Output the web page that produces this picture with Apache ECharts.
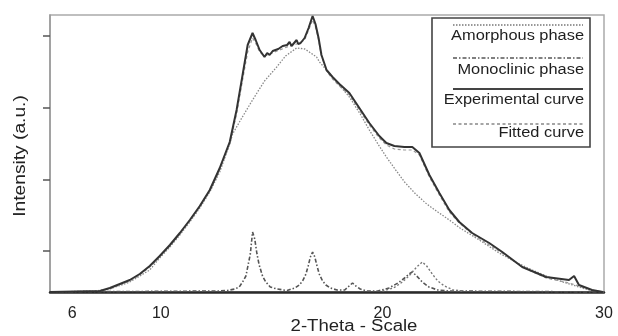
<!DOCTYPE html>
<html>
<head>
<meta charset="utf-8">
<script src="https://cdn.jsdelivr.net/npm/echarts@6/dist/echarts.min.js"></script>
<style>html,body{margin:0;padding:0;background:#fff}#c{width:618px;height:336px}</style>
</head>
<body>
<div id="c"></div>
<script>
// 2-Theta tick labels
const xTickLabels = [6, 10, 20, 30];
const yTickValues = [41, 112, 184, 256];

// Experimental curve
const expTheta = [5.00,7.25,7.70,8.15,8.60,9.05,9.50,9.95,10.41,10.86,11.31,11.76,12.21,12.66,13.11,13.42,13.69,13.92,14.14,14.28,14.46,14.68,14.80,14.91,15.05,15.14,15.30,15.36,15.50,15.59,15.70,15.81,15.90,15.99,16.13,16.20,16.31,16.49,16.67,16.85,16.98,17.12,17.25,17.48,17.75,18.06,18.51,18.96,19.41,19.86,20.18,20.54,20.99,21.35,21.67,22.12,22.57,23.02,23.47,24.05,24.82,25.41,26.31,27.39,28.42,28.65,28.87,29.46,29.95];
const expIntensity = [0,1,4,8,12,18,26,36,47,59,72,86,102,124,150,182,217,247,259,252,242,235,239,237,241,240,243,242,246,244,247,250,246,247,252,248,249,254,264,276,268,254,237,222,215,208,199,184,169,156,149,146,145,145,139,117,99,82,70,59,49,40,25,15,12,16,7,2,0];

// Amorphous phase
const amoTheta = [5.0,7.0,7.7,8.6,9.5,9.95,10.41,10.86,11.31,11.76,12.21,12.66,13.11,13.24,13.6,14.14,14.68,15.23,15.63,16.13,16.5,17.03,17.16,17.75,18.51,19.0,19.41,19.8,20.18,20.6,21.0,21.5,22.0,22.5,23.02,23.5,24.37,25.27,26.0,26.76,27.5,28.29,29.32,30.0];
const amoIntensity = [0,1,3,10,22,34,45,57,70,84,100,120,148,158,172,192,211,225,236,244,243,235,230,215,195,178,162,148,135,122,110,98,88,80,72,64,52,39,30,22,15,9,2,0];

// Monoclinic phase
const monoTheta = [5.0,12.6,13.0,13.34,13.54,13.69,13.84,13.94,14.04,14.14,14.24,14.34,14.44,14.59,14.74,14.94,15.24,15.7,15.75,16.05,16.25,16.40,16.55,16.65,16.75,16.85,16.95,17.05,17.15,17.30,17.45,17.65,17.95,18.3,18.5,18.65,18.8,19.0,19.3,19.8,20.3,20.7,21.0,21.2,21.35,21.55,21.8,22.1,22.5,23.0,30.0];
const monoIntensity = [0,1,1.5,3,5,10,16,27,38,60,53,38,27,16,10,5,3,1.5,1.5,4,7,11,18,26,35,40,35,26,18,11,7,4,2,2,6,9,6,3,1,1,4,9,14,18,20,16,10,5,2,1,0];
const mono2Theta = [20.0,20.5,20.9,21.2,21.35,21.55,21.8,22.0,22.25,22.5,22.8,23.2,23.6];
const mono2Intensity = [1,4,10,16,20,25,30,26,18,11,6,2,1];

// Fitted curve
const fitTheta = [5,7.25,7.7,8.15,8.6,9.05,9.5,9.95,10.41,10.86,11.31,11.76,12.21,12.66,13.11,13.42,13.69,13.92,14.14,14.28,14.46,14.68,14.91,15.14,15.36,15.59,15.81,16.13,16.49,16.67,16.85,16.98,17.12,17.25,17.48,17.75,18.06,18.51,18.96,19.41,19.86,20.18,20.54,20.99,21.35,21.67,22.12,22.57,23.02,23.47,24.05,24.82,25.41,26.31,27.39,28.42,28.87,29.46,29.95];
const fitIntensity = [0,1,3,7,11,17,25,35,46,58,71,85,101,122,148,178,212,240,254,249,240,236,238,240,242,244,246,248,252,262,272,265,252,236,221,213,206,197,182,167,154,147,143,142,142,137,115,97,80,69,58,47,39,25,14,9,6,2,0];

const pairs = (xs, ys) => xs.map((x, i) => [x, ys[i]]);
const FONT = 'Liberation Sans';

const chart = echarts.init(document.getElementById('c'), null, {renderer: 'canvas'});
const line = (name, xs, ys, color, width, type, z) => ({
  name, type: 'line', data: pairs(xs, ys), showSymbol: false, symbol: 'none',
  lineStyle: {color, width, type}, z, animation: false
});

const legendItems = [
  {label: 'Amorphous phase', lineY: 25, textY: 36, color: '#777', dash: [1.5, 1.5], w: 1.3},
  {label: 'Monoclinic phase', lineY: 58, textY: 70, color: '#555', dash: [4, 2, 1.5, 2], w: 1.4},
  {label: 'Experimental curve', lineY: 89, textY: 100, color: '#444', dash: null, w: 1.8},
  {label: 'Fitted curve', lineY: 124, textY: 133, color: '#888', dash: [3, 2.5], w: 1.3}
];
const graphics = [
  {type: 'rect', shape: {x: 432, y: 18, width: 158, height: 129}, style: {fill: '#fff', stroke: '#444', lineWidth: 1.6}, z: 10}
];
legendItems.forEach(it => {
  graphics.push({type: 'line', shape: {x1: 453, y1: it.lineY, x2: 583, y2: it.lineY},
    style: {stroke: it.color, lineWidth: it.w, lineDash: it.dash}, z: 11});
  graphics.push({type: 'text', x: 584, y: it.textY, scaleX: 1.17,
    style: {text: it.label, font: '14px "' + FONT + '"', fill: '#1e1e1e', align: 'right', verticalAlign: 'middle'}, z: 11});
});
graphics.push({type: 'text', x: 354, y: 327, scaleX: 1.16,
  style: {text: '2-Theta - Scale', font: '16px "' + FONT + '"', fill: '#222', align: 'center', verticalAlign: 'middle'}});
graphics.push({type: 'text', x: 21, y: 156, rotation: Math.PI / 2, scaleX: 1.2,
  style: {text: 'Intensity (a.u.)', font: '16px "' + FONT + '"', fill: '#222', align: 'center', verticalAlign: 'middle'}});

chart.setOption({
  animation: false,
  backgroundColor: '#fff',
  grid: {left: 50, right: 14, top: 15, bottom: 44, show: true, borderColor: '#aaa', borderWidth: 1.5},
  xAxis: {
    type: 'value', min: 5, max: 30,
    axisLine: {lineStyle: {color: '#2a2a2a', width: 2.5}},
    axisTick: {show: false},
    splitLine: {show: false},
    axisLabel: {customValues: xTickLabels, fontSize: 16, fontFamily: FONT, color: '#222', margin: 14}
  },
  yAxis: {
    type: 'value', min: 0, max: 277,
    axisLine: {show: true, lineStyle: {color: '#999', width: 1.5}},
    axisTick: {show: true, customValues: yTickValues, length: 7, lineStyle: {color: '#555', width: 1.5}},
    axisLabel: {show: false},
    splitLine: {show: false}
  },
  series: [
    line('Amorphous phase', amoTheta, amoIntensity, '#888', 1.3, [1.5, 1.5], 2),
    line('Fitted curve', fitTheta, fitIntensity, '#999', 1.2, [3, 2.5], 3),
    line('Monoclinic phase', monoTheta, monoIntensity, '#555', 1.6, [4, 2, 1.5, 2], 4),
    line('Monoclinic phase 2', mono2Theta, mono2Intensity, '#777', 1.4, [2, 2], 4),
    line('Experimental curve', expTheta, expIntensity, '#333', 2, 'solid', 5)
  ],
  graphic: graphics
});
</script>
</body>
</html>
